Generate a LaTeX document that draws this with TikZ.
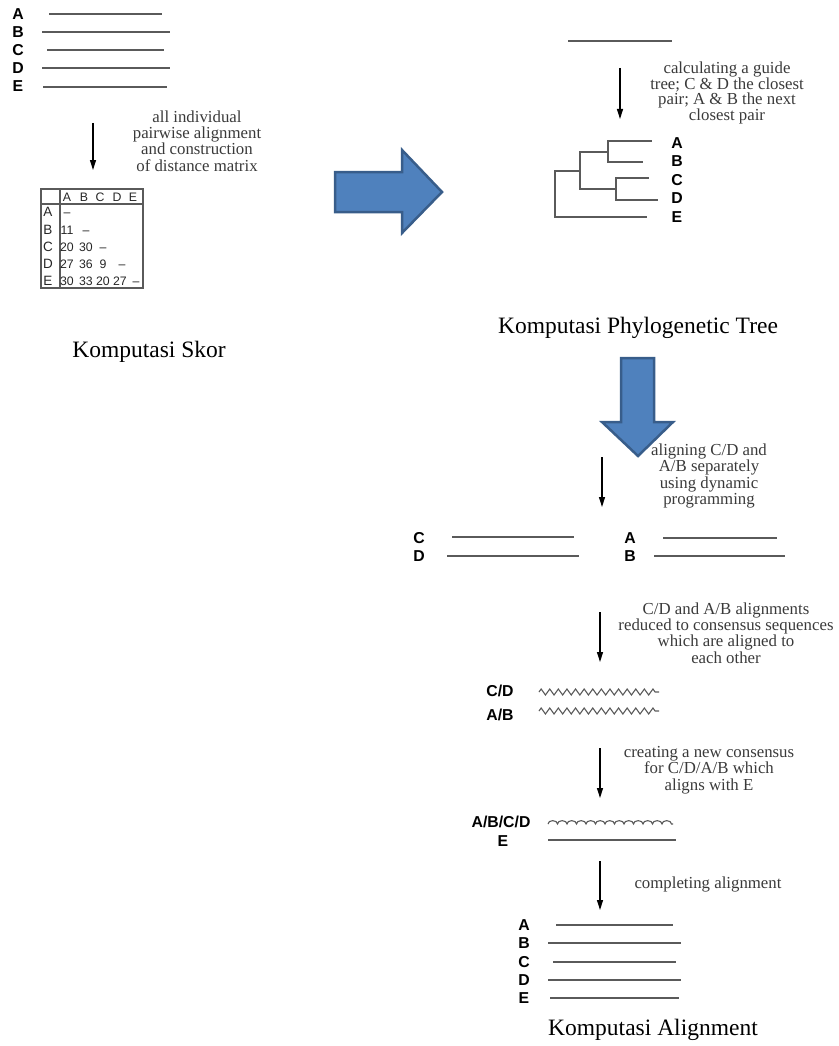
\documentclass[tikz,border=0pt]{standalone}
\usepackage{fontspec}
\setmainfont{Liberation Serif}
\setsansfont{Liberation Sans}
\usetikzlibrary{arrows.meta,decorations.pathmorphing}
\definecolor{seqgray}{HTML}{5A5A5A}
\definecolor{blockfill}{HTML}{4F81BD}
\definecolor{blockedge}{HTML}{385D8A}
\definecolor{notegray}{HTML}{3A3A3A}
\begin{document}
\begin{tikzpicture}[x=1pt,y=-1pt,
  seq/.style={draw=seqgray, line width=1.6pt},
  lbl/.style={font=\sffamily\bfseries\fontsize{15.8}{16}\selectfont, inner sep=0pt, text height=11.4pt, text depth=0pt},
  cell/.style={font=\sffamily\fontsize{12.3}{13}\selectfont, inner sep=0pt, text=black!85, text height=8.9pt, text depth=0pt},
  rowlbl/.style={font=\sffamily\fontsize{13.5}{14}\selectfont, inner sep=0pt, text=black!85, text height=9.7pt, text depth=0pt},
  note/.style={font=\fontsize{16.8}{16.3}\selectfont, text=notegray, align=center, inner sep=0pt},
  heading/.style={font=\fontsize{23.5}{26}\selectfont, inner sep=0pt},
  flow/.style={-{Triangle[length=10pt,width=6pt]}, line width=1.3pt},
  block/.style={fill=blockfill, draw=blockedge, line width=2.5pt, line join=miter},
  wave/.style={draw=seqgray, line width=1.1pt, decorate, decoration={zigzag, segment length=8.6pt, amplitude=3pt}},
  hump/.style={draw=seqgray, line width=1.1pt, decorate, decoration={bumps, segment length=19pt, amplitude=3.4pt}}
]
\useasboundingbox (0,0) rectangle (838,1046);

% ---------- Panel 1: sequences ----------
\node[lbl] (p1a) at (18,14) {A};
\node[lbl] (p1b) at (18,32) {B};
\node[lbl] (p1c) at (18,50) {C};
\node[lbl] (p1d) at (18,68) {D};
\node[lbl] (p1e) at (18,86) {E};
\draw[seq] (49,14) -- (162,14);
\draw[seq] (42,32) -- (170,32);
\draw[seq] (47,50) -- (164,50);
\draw[seq] (42,68) -- (170,68);
\draw[seq] (43,87) -- (167,87);

\coordinate (s1top) at (93,123);
\coordinate (s1bot) at (93,170);
\draw[flow] (s1top) -- (s1bot);
\node[note, font=\fontsize{16.8}{16.4}\selectfont] (n1) at (197,141) {all individual\\pairwise alignment\\and construction\\of distance matrix};

% ---------- distance matrix ----------
\draw[seqgray, line width=1.6pt] (41,189) rectangle (143,288);
\draw[seqgray, line width=1.3pt] (60,189) -- (60,288);
\draw[seqgray, line width=1.3pt] (41,204) -- (143,204);
\foreach \t/\x in {A/67,B/84,C/100,D/117,E/133}
  \node[cell] at (\x,197) {\t};
\foreach \t/\y in {A/212,B/230,C/247,D/264,E/281}
  \node[rowlbl] at (48,\y) {\t};
\node[cell] at (67,212) {--};
\node[cell] at (67,230) {11};  \node[cell] at (86,230) {--};
\node[cell] at (67,247) {20};  \node[cell] at (86,247) {30}; \node[cell] at (103,247) {--};
\node[cell] at (67,264) {27};  \node[cell] at (86,264) {36}; \node[cell] at (103,264) {9}; \node[cell] at (122,264) {--};
\node[cell] at (67,281) {30};  \node[cell] at (86,281) {33}; \node[cell] at (103,281) {20}; \node[cell] at (120,281) {27}; \node[cell] at (136,281) {--};

\node[heading] (h1) at (149,352) {Komputasi Skor};

% ---------- big right arrow ----------
\draw[block] (335,172) -- (402,172) -- (402,150) -- (442,192) -- (402,233) -- (402,212) -- (335,212) -- cycle;

% ---------- Panel 2: guide tree ----------
\draw[seq] (568,41) -- (672,41);
\coordinate (s2top) at (620,68);
\coordinate (s2bot) at (620,119);
\draw[flow] (s2top) -- (s2bot);
\node[note, font=\fontsize{16.8}{13.8}\selectfont] (n2) at (727,93) {calculating a guide\\tree; C \& D the closest\\pair; A \& B the next\\closest pair};

\draw[seq, line cap=rect] (651,141) -- (608,141) -- (608,162) -- (642,162);
\draw[seq, line cap=rect] (648,178) -- (616,178) -- (616,200) -- (657,200);
\draw[seq, line cap=rect] (608,152) -- (580,152) -- (580,189) -- (616,189);
\draw[seq, line cap=rect] (580,171) -- (555,171) -- (555,217) -- (646,217);
\node[lbl] (t2a) at (677,143) {A};
\node[lbl] (t2b) at (677,161) {B};
\node[lbl] (t2c) at (677,180) {C};
\node[lbl] (t2d) at (677,198) {D};
\node[lbl] (t2e) at (677,217) {E};

\node[heading] (h2) at (638,328) {Komputasi Phylogenetic Tree};

% ---------- big down arrow ----------
\draw[block] (621,358) -- (654,358) -- (654,422) -- (673,422) -- (638,456) -- (602,422) -- (621,422) -- cycle;

% ---------- Panel 3: alignment ----------
\coordinate (s3top) at (602,457);
\coordinate (s3bot) at (602,507);
\draw[flow] (s3top) -- (s3bot);
\node[note] (n3) at (709,476) {aligning C/D and\\A/B separately\\using dynamic\\programming};

\node[lbl] (c3) at (419,538) {C};
\node[lbl] (d3) at (419,556) {D};
\draw[seq] (452,537) -- (574,537);
\draw[seq] (447,556) -- (579,556);
\node[lbl] (a3) at (630,538) {A};
\node[lbl] (b3) at (630,556) {B};
\draw[seq] (663,538) -- (777,538);
\draw[seq] (654,556) -- (785,556);

\coordinate (s4top) at (600,612);
\coordinate (s4bot) at (600,662);
\draw[flow] (s4top) -- (s4bot);
\node[note] (n4) at (726,633) {C/D and A/B alignments\\reduced to consensus sequences\\which are aligned to\\each other};

\node[lbl] (cd4) at (500,691) {C/D};
\node[lbl] (ab4) at (500,715) {A/B};
\draw[wave] (539,692) -- (659,692);
\draw[wave] (539,711) -- (659,711);

\coordinate (s5top) at (600,748);
\coordinate (s5bot) at (600,798);
\draw[flow] (s5top) -- (s5bot);
\node[note] (n5) at (709,770) {creating a new consensus\\for C/D/A/B which\\aligns with E};

\node[lbl] (abcd5) at (501,822) {A/B/C/D};
\node[lbl] (e5) at (503,841) {E};
\draw[hump] (548,824) -- (673,824);
\draw[seq] (548,840) -- (676,840);

\coordinate (s6top) at (600,861);
\coordinate (s6bot) at (600,910);
\draw[flow] (s6top) -- (s6bot);
\node[note] (n6) at (708,884) {completing alignment};

\node[lbl] (a6) at (524,925) {A};
\node[lbl] (b6) at (524,943) {B};
\node[lbl] (c6) at (524,962) {C};
\node[lbl] (d6) at (524,980) {D};
\node[lbl] (e6) at (524,998) {E};
\draw[seq] (556,925) -- (673,925);
\draw[seq] (548,943) -- (681,943);
\draw[seq] (553,962) -- (676,962);
\draw[seq] (548,980) -- (681,980);
\draw[seq] (550,998) -- (679,998);

\node[heading] (h3) at (653,1030) {Komputasi Alignment};
\end{tikzpicture}
\end{document}
